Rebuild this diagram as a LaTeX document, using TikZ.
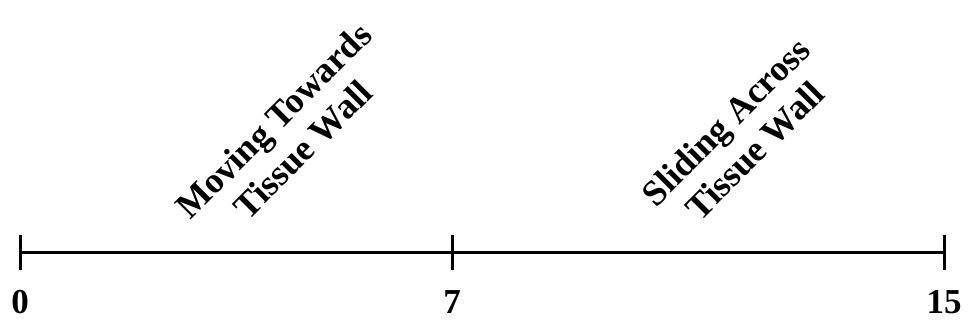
\documentclass[tikz,border=0pt]{standalone}
\usepackage{fontspec}
\setmainfont{Liberation Serif}
\begin{document}
\begin{tikzpicture}[x=1pt,y=1pt,
  axis/.style={line width=3pt},
  tickmark/.style={line width=3pt},
  num/.style={font=\bfseries\fontsize{35}{38}\selectfont, inner sep=0pt, anchor=base},
  phase/.style={font=\bfseries\fontsize{36}{41}\selectfont, align=center, rotate=45, inner sep=0pt}]
\useasboundingbox (0,0) rectangle (968,323);
\coordinate (a0) at (20,70.5);
\coordinate (a7) at (452,70.5);
\coordinate (a15) at (944,70.5);
\draw[axis] (a0) -- (a7) -- (a15);
\foreach \c in {a0,a7,a15}{
  \draw[tickmark] ([yshift=17.5pt]\c) -- ([yshift=-17.5pt]\c);
}
\node[num] (n0) at (20,9.5) {0};
\node[num] (n7) at (452,9.5) {7};
\node[num] (n15) at (944,9.5) {15};
\node[phase] (p1) at (288,188) {Moving Towards\\Tissue Wall};
\node[phase] (p2) at (740,187) {Sliding Across\\Tissue Wall};
\end{tikzpicture}
\end{document}
